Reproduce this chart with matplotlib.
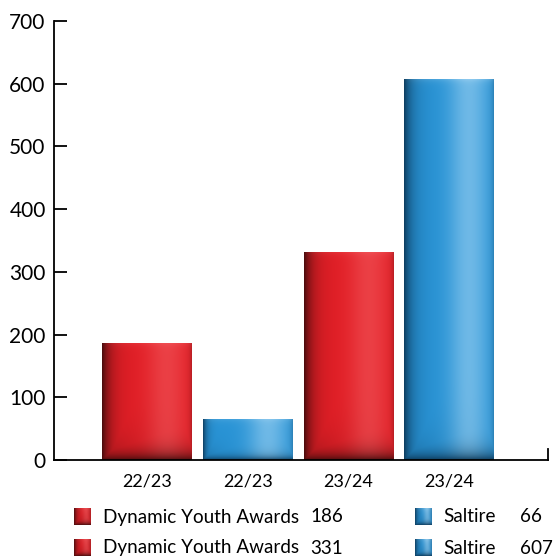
import numpy as np
import matplotlib
matplotlib.use("Agg")
import matplotlib.pyplot as plt

# chart data
categories = ["22/23", "22/23", "23/24", "23/24"]
values = [186, 66, 331, 607]
series = ["Dynamic Youth Awards", "Saltire", "Dynamic Youth Awards", "Saltire"]
legend_names = ["Dynamic Youth Awards", "Dynamic Youth Awards", "Saltire", "Saltire"]
legend_values = ["186", "331", "66", "607"]
y_ticks = [0, 100, 200, 300, 400, 500, 600, 700]

RED = dict(base=(0.89, 0.12, 0.15), light=(0.93, 0.28, 0.30), dark=(0.22, 0.04, 0.04))
BLUE = dict(base=(0.16, 0.58, 0.84), light=(0.50, 0.76, 0.92), dark=(0.04, 0.20, 0.32))
colors = {"Dynamic Youth Awards": RED, "Saltire": BLUE}

plt.rcParams["font.family"] = ["Lato", "DejaVu Sans"]


def shaded(w_px, h_px, pal, res=3):
    """Pillow-like shading for a box of w_px x h_px pixels."""
    W = max(int(w_px * res), 4)
    H = max(int(h_px * res), 4)
    x = (np.arange(W) + 0.5) / res
    y = (np.arange(H) + 0.5) / res
    X, Y = np.meshgrid(x, y)
    from_left = X
    from_right = w_px - X
    from_bottom = h_px - Y
    from_top = Y
    u = X / w_px

    base = np.array(pal["base"])
    light = np.array(pal["light"])
    dark = np.array(pal["dark"])

    hl = 0.8 * np.exp(-((u - 0.72) / 0.22) ** 2)
    hl = hl + 0.4 * np.exp(-from_top / 3)
    img = base + (light - base) * hl[..., None]

    s = max(min(w_px, h_px) * 0.12, 4)
    d = np.maximum(np.exp(-from_left / (s * 0.8)), np.exp(-from_bottom / (s * 0.8)))
    # sweep of darkness from lower-left corner
    corner = np.exp(-(from_left * 0.6 + from_bottom * 1.0) / (s * 2.2)) * 0.6
    d = np.maximum(d, corner)
    d = np.maximum(d, 0.35 * np.exp(-from_right / 2.5))
    d = np.clip(d, 0, 1) * 0.92
    img = img * (1 - d[..., None]) + dark * d[..., None]
    return np.clip(img, 0, 1)


fig = plt.figure(figsize=(5.54, 5.58), dpi=100)
ax = fig.add_axes([54 / 554, 1 - 460 / 558, (548 - 54) / 554, (460 - 21) / 558])

pos = np.arange(len(values))
bars = ax.bar(pos, values, width=0.895, color="none", edgecolor="none")
ax.set_xlim(-0.93, 3.985)
ax.set_ylim(0, 700)

px_per_x = (548 - 54) / (3.985 + 0.93)
px_per_y = (460 - 21) / 700
for b, s in zip(bars, series):
    x0, y0 = b.get_x(), b.get_y()
    w, h = b.get_width(), b.get_height()
    img = shaded(w * px_per_x, h * px_per_y, colors[s])
    im = ax.imshow(img, extent=(x0, x0 + w, y0, y0 + h), aspect="auto",
                   interpolation="bilinear", zorder=2)
    im.set_clip_path(b)

ax.set_aspect("auto")
ax.set_xticks(pos)
ax.set_xticklabels(categories, fontsize=13)
ax.set_yticks(y_ticks)
ax.set_yticklabels([str(t) for t in y_ticks], fontsize=15)
ax.tick_params(axis="y", direction="in", length=9, width=1.3, pad=6)
ax.tick_params(axis="x", length=0, pad=10)
for side in ["top", "right"]:
    ax.spines[side].set_visible(False)
for side in ["left", "bottom"]:
    ax.spines[side].set_linewidth(1.3)
    ax.spines[side].set_zorder(3)
# small end mark on the right of the x axis
ax.plot([1, 1], [0, 0.025], transform=ax.transAxes, color="black", lw=1.3, clip_on=False)

# legend drawn manually
lax = fig.add_axes([0, 0, 1, 1], zorder=-1)
lax.axis("off")
rows = [517, 548]
cols = [(74, 103, 310), (415, 443, 520)]
items = [(0, 0), (0, 1), (1, 0), (1, 1)]
for (c, r), name, val in zip(items, legend_names, legend_values):
    sx, tx, vx = cols[c]
    cy = rows[r]
    img = shaded(17, 17, colors[name])
    lax.imshow(img, extent=(sx, sx + 17, cy + 8.5, cy - 8.5), aspect="auto",
               interpolation="bilinear")
    lax.text(tx, cy, name, fontsize=13.6, va="center", ha="left")
    lax.text(vx, cy, val, fontsize=13.6, va="center", ha="left")
lax.set_xlim(0, 554)
lax.set_ylim(558, 0)

fig.savefig("out.png", dpi=100)
